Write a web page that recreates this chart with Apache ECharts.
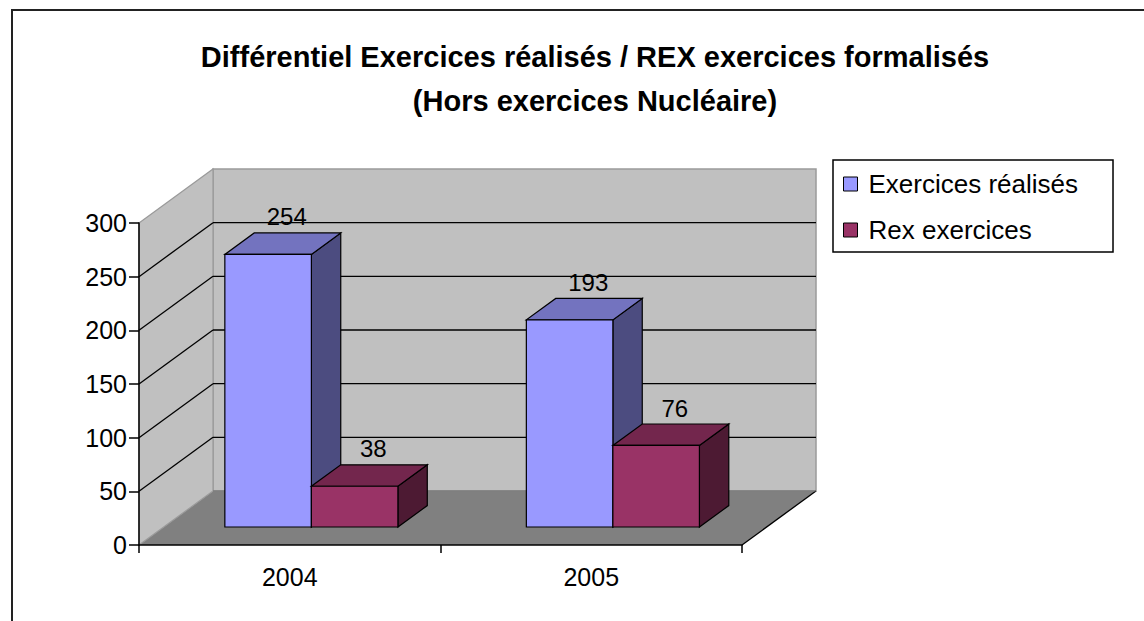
<!DOCTYPE html>
<html><head><meta charset="utf-8">
<script src="https://cdn.jsdelivr.net/npm/echarts@6/dist/echarts.min.js"></script>
<style>html,body{margin:0;padding:0;background:#fff}#c{width:1144px;height:621px}</style>
</head><body><div id="c"></div>
<script>
// ---- data ----
const categories = ['2004', '2005'];
const seriesNames = ['Exercices réalisés', 'Rex exercices'];
const realises = [254, 193];
const rex = [38, 76];
const yTicks = [0, 50, 100, 150, 200, 250, 300];
const titleLines = ['Différentiel Exercices réalisés / REX exercices formalisés', '(Hors exercices Nucléaire)'];

// ---- 3D look (style constants) ----
const DX = 74, DY = -54;          // depth offset of the back wall
const F0 = 0.333, F1 = 0.73;      // bar depth range (fraction of full depth)
const BAR_FRAC = 0.287;           // bar width as fraction of category band
const GROUP_SHIFT = -0.01;        // small shift of the bar pair inside the band
const FONT = 'Liberation Sans, Arial, sans-serif';
const faces = [
  {front: '#9999ff', top: '#7373bf', side: '#4c4c80'},
  {front: '#993366', top: '#73264d', side: '#4d1a33'}
];
const yMin = yTicks[0], yMax = yTicks[yTicks.length - 1];

function poly(points, fill, stroke, lw) {
  return {type: 'polygon', shape: {points: points}, style: {fill: fill, stroke: stroke || 'none', lineWidth: lw || 1}};
}
function line(p1, p2, stroke, lw) {
  return {type: 'line', shape: {x1: p1[0], y1: p1[1], x2: p2[0], y2: p2[1]}, style: {stroke: stroke, lineWidth: lw || 1}};
}

function wallsRender(params, api) {
  const bw = api.size([1, 0])[0];
  const c0 = api.coord([0, yMin]);
  const cN = api.coord([categories.length - 1, yMin]);
  const L = c0[0] - bw / 2, R = cN[0] + bw / 2;
  const y0 = c0[1];
  const yT = api.coord([0, yMax])[1];
  const ch = [];
  ch.push(poly([[L, y0], [L + DX, y0 + DY], [R + DX, y0 + DY], [R, y0]], '#808080'));
  ch.push(poly([[L + DX, yT + DY], [R + DX, yT + DY], [R + DX, y0 + DY], [L + DX, y0 + DY]], '#c0c0c0', '#9a9a9a', 1.5));
  ch.push(poly([[L, yT], [L + DX, yT + DY], [L + DX, y0 + DY], [L, y0]], '#c0c0c0', '#9a9a9a', 1.2));
  yTicks.forEach(function (v) {
    if (v === yMin || v === yMax) return;
    const y = api.coord([0, v])[1];
    ch.push(line([L + DX, y + DY], [R + DX, y + DY], '#000', 1.3));
    ch.push(line([L, y], [L + DX, y + DY], '#000', 1.3));
  });
  ch.push(line([R, y0], [R + DX, y0 + DY], '#000', 1.3));
  ch.push(line([L + DX, y0 + DY], [R + DX, y0 + DY], '#6a6a6a', 1));
  return {type: 'group', children: ch};
}

function barRender(sIdx) {
  return function (params, api) {
    const ci = api.value(0), v = api.value(1);
    const base = api.coord([ci, 0]);
    const tp = api.coord([ci, v]);
    const bw = api.size([1, 0])[0];
    const w = bw * BAR_FRAC;
    const x0 = base[0] + bw * GROUP_SHIFT - w + sIdx * w, x1 = x0 + w;
    const ox0 = DX * F0, oy0 = DY * F0, ox1 = DX * F1, oy1 = DY * F1;
    const yb = base[1] + oy0, yt = tp[1] + oy0, ytb = tp[1] + oy1, ybb = base[1] + oy1;
    const f = faces[sIdx];
    const ch = [
      poly([[x1 + ox0, yt], [x1 + ox1, ytb], [x1 + ox1, ybb], [x1 + ox0, yb]], f.side, '#000', 1.2),
      poly([[x0 + ox0, yt], [x1 + ox0, yt], [x1 + ox1, ytb], [x0 + ox1, ytb]], f.top, '#000', 1.2),
      poly([[x0 + ox0, yt], [x1 + ox0, yt], [x1 + ox0, yb], [x0 + ox0, yb]], f.front, '#000', 1.2),
      {type: 'text', style: {text: String(v), x: (x0 + x1) / 2 + (ox0 + ox1) / 2 + 4, y: ytb - 4,
        align: 'center', verticalAlign: 'bottom', fill: '#000', font: '24px ' + FONT}}
    ];
    return {type: 'group', children: ch};
  };
}

const chart = echarts.init(document.getElementById('c'), null, {renderer: 'svg'});
chart.setOption({
  backgroundColor: '#fff',
  animation: false,
  title: {
    text: titleLines.join('\n'), left: 590, top: 30, textAlign: 'center',
    textStyle: {fontFamily: FONT, fontSize: 29, fontWeight: 'bold', color: '#000', lineHeight: 44}
  },
  graphic: [{type: 'rect', shape: {x: 12, y: 10, width: 1150, height: 640},
    style: {fill: 'none', stroke: '#222', lineWidth: 2}, silent: true, z: 100}],
  legend: {
    orient: 'vertical', left: 833, top: 160, padding: [11, 35, 9, 10], itemGap: 20,
    itemWidth: 14, itemHeight: 14, icon: 'rect', borderColor: '#000', borderWidth: 1.5,
    data: seriesNames,
    itemStyle: {borderColor: '#000', borderWidth: 1},
    textStyle: {fontFamily: FONT, fontSize: 26, color: '#000', padding: [0, 0, 0, 6], lineHeight: 26}
  },
  grid: {left: 139, top: 223, width: 603, height: 322, containLabel: false},
  xAxis: {
    type: 'category', data: categories, z: 5,
    axisLine: {lineStyle: {color: '#000', width: 1.5}},
    axisTick: {show: true, length: 8, lineStyle: {color: '#000', width: 1.5}},
    axisLabel: {color: '#000', fontFamily: FONT, fontSize: 25, margin: 19},
    splitLine: {show: false}
  },
  yAxis: {
    type: 'value', min: yMin, max: yMax, interval: 50, z: 5,
    axisLine: {show: true, lineStyle: {color: '#000', width: 1.5}},
    axisTick: {show: true, length: 10, lineStyle: {color: '#000', width: 1.5}},
    axisLabel: {color: '#000', fontFamily: FONT, fontSize: 25, margin: 12},
    splitLine: {show: false}
  },
  series: [
    {type: 'custom', name: '__walls', z: 1, silent: true, renderItem: wallsRender, data: [[0, 0]], clip: false},
    {type: 'custom', name: seriesNames[0], z: 3, itemStyle: {color: faces[0].front}, renderItem: barRender(0),
      data: realises.map(function (v, i) { return [i, v]; }), clip: false},
    {type: 'custom', name: seriesNames[1], z: 3, itemStyle: {color: faces[1].front}, renderItem: barRender(1),
      data: rex.map(function (v, i) { return [i, v]; }), clip: false}
  ]
});
</script>
</body></html>
